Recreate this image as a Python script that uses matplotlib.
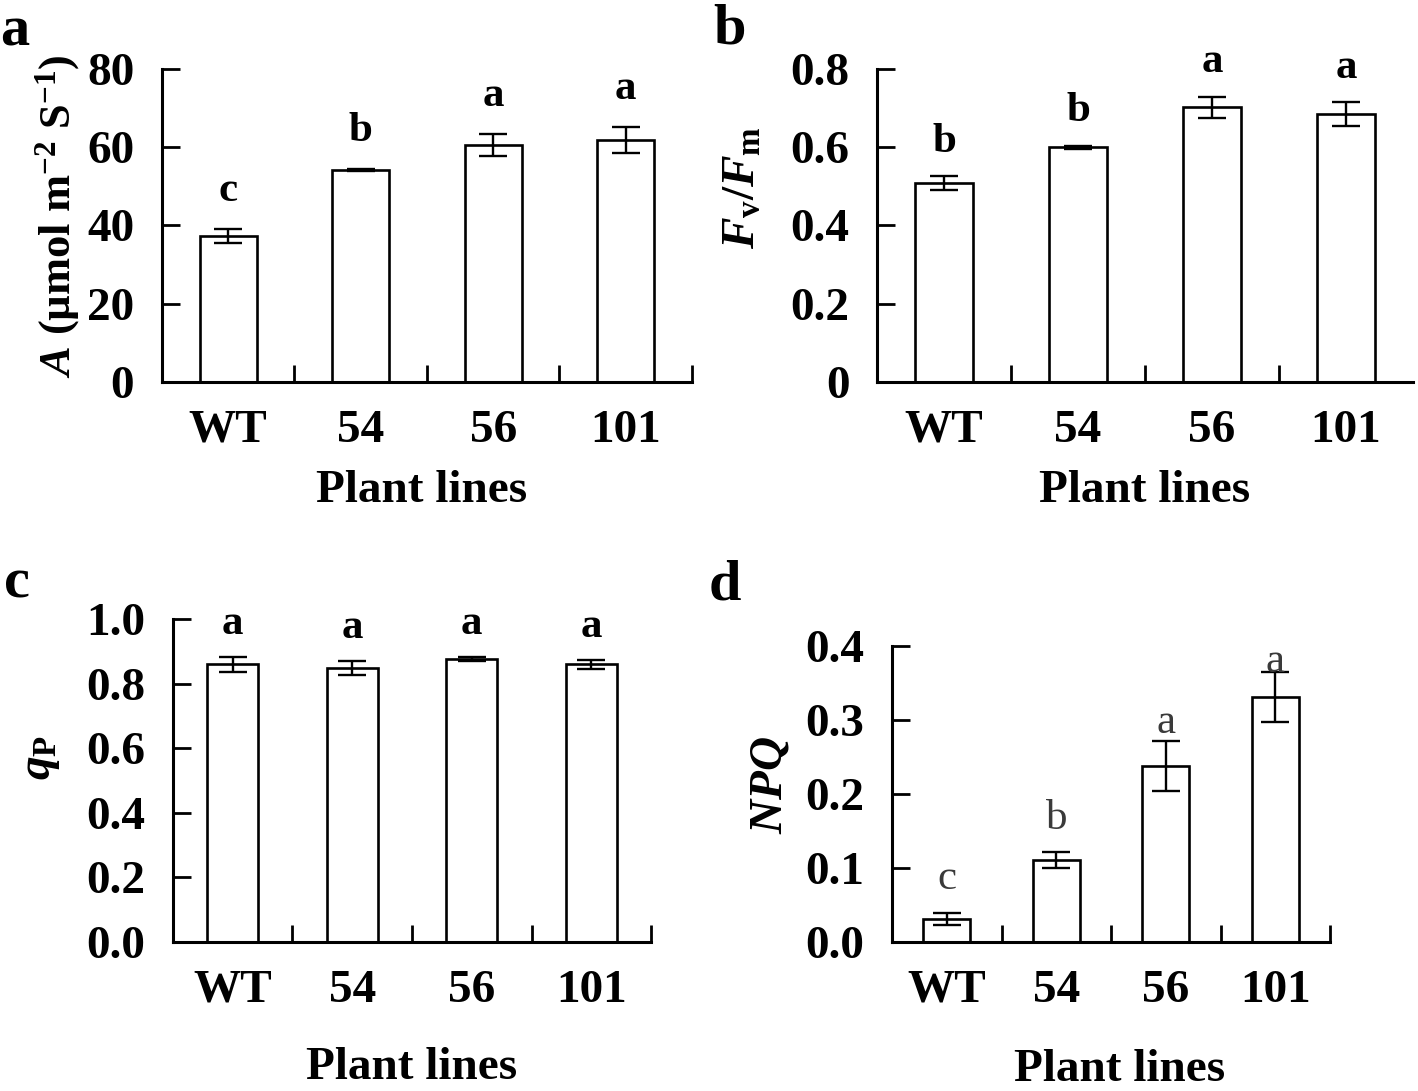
import numpy as np
import matplotlib
matplotlib.use('Agg')
import matplotlib.pyplot as plt

plt.rcParams['font.family'] = 'Liberation Serif'
plt.rcParams['font.weight'] = 'bold'
plt.rcParams['axes.labelweight'] = 'bold'
plt.rcParams['mathtext.fontset'] = 'custom'
plt.rcParams['mathtext.rm'] = 'Liberation Serif:bold'
plt.rcParams['mathtext.it'] = 'Liberation Serif:italic:bold'
plt.rcParams['mathtext.bf'] = 'Liberation Serif:bold'

lines = ['WT', '54', '56', '101']

# a: net photosynthetic rate
photo = [37.3, 54.1, 60.5, 61.8]
photo_err = [1.7, 0.3, 2.8, 3.4]
photo_sig = ['c', 'b', 'a', 'a']
photo_ticks = [0, 20, 40, 60, 80]
photo_ticklabels = ['0', '20', '40', '60', '80']

# b: Fv/Fm
fvfm = [0.508, 0.600, 0.702, 0.685]
fvfm_err = [0.018, 0.004, 0.027, 0.030]
fvfm_sig = ['b', 'b', 'a', 'a']
fvfm_ticks = [0, 0.2, 0.4, 0.6, 0.8]
fvfm_ticklabels = ['0', '0.2', '0.4', '0.6', '0.8']

# c: qP
qp = [0.859, 0.848, 0.877, 0.859]
qp_err = [0.023, 0.023, 0.006, 0.015]
qp_sig = ['a', 'a', 'a', 'a']
qp_ticks = [0, 0.2, 0.4, 0.6, 0.8, 1.0]
qp_ticklabels = ['0.0', '0.2', '0.4', '0.6', '0.8', '1.0']

# d: NPQ
npq = [0.031, 0.111, 0.238, 0.331]
npq_err = [0.008, 0.011, 0.034, 0.034]
npq_sig = ['c', 'b', 'a', 'a']
npq_ticks = [0, 0.1, 0.2, 0.3, 0.4]
npq_ticklabels = ['0.0', '0.1', '0.2', '0.3', '0.4']

FS = 34


def panel(ax, vals, errs, sig, ticks, ticklabels, ylabel, pads,
          end_tick=True, sig_kw=None, ylabel_fs=FS):
    x = np.arange(len(lines))
    ax.bar(x, vals, width=0.43, color='white', edgecolor='black',
           linewidth=1.9, zorder=2)
    ax.errorbar(x, vals, yerr=errs, fmt='none', ecolor='black',
                elinewidth=1.7, capsize=10, capthick=1.7, zorder=3)
    kw = dict(fontsize=31, fontweight='bold', color='black')
    if sig_kw:
        kw.update(sig_kw)
    for xi, v, e, s, p in zip(x, vals, errs, sig, pads):
        ax.text(xi, v + e + p, s, ha='center', va='baseline', **kw)

    ax.set_xlim(-0.5, 3.5)
    ax.set_ylim(ticks[0], ticks[-1])
    ax.set_yticks(ticks)
    ax.set_yticklabels(ticklabels)
    bounds = [0.5, 1.5, 2.5, 3.5] if end_tick else [0.5, 1.5, 2.5]
    ax.set_xticks(bounds)
    ax.set_xticklabels([])
    ax.set_xticks(x, minor=True)
    ax.set_xticklabels(lines, minor=True)
    ax.tick_params(axis='x', which='major', direction='in', length=12, width=2)
    ax.tick_params(axis='x', which='minor', length=0, pad=20, labelsize=FS)
    ax.tick_params(axis='y', direction='in', length=13, width=2, pad=20,
                   labelsize=FS)
    for sp in ['top', 'right']:
        ax.spines[sp].set_visible(False)
    for sp in ['left', 'bottom']:
        ax.spines[sp].set_linewidth(2.2)
    ax.set_ylabel(ylabel, fontsize=ylabel_fs, fontweight='bold')
    ax.set_xlabel('Plant lines', fontsize=FS, fontweight='bold')


fig = plt.figure(figsize=(14.18, 10.91), dpi=100)
ax_a = fig.add_axes([0.1142, 0.6499, 0.3738, 0.2869])
ax_b = fig.add_axes([0.6185, 0.6499, 0.3780, 0.2869])
ax_c = fig.add_axes([0.1220, 0.1366, 0.3371, 0.2961])
ax_d = fig.add_axes([0.6291, 0.1366, 0.3089, 0.2713])

panel(ax_a, photo, photo_err, photo_sig, photo_ticks, photo_ticklabels,
      r'$A$ (µmol m$^{-2}$ S$^{-1}$)', [7.2] * 4, ylabel_fs=32)
panel(ax_b, fvfm, fvfm_err, fvfm_sig, fvfm_ticks, fvfm_ticklabels,
      r'$F_{\mathrm{v}}/F_{\mathrm{m}}$', [0.062] * 4, end_tick=False)
panel(ax_c, qp, qp_err, qp_sig, qp_ticks, qp_ticklabels,
      r'$q_{\mathrm{P}}$', [0.07] * 4)
panel(ax_d, npq, npq_err, npq_sig, npq_ticks, npq_ticklabels,
      r'$NPQ$', [0.032, 0.03, 0.01, 0.0],
      sig_kw=dict(fontweight='normal', color='#3a3a3a'))

ax_a.xaxis.set_label_coords(0.49, -0.28)
ax_b.xaxis.set_label_coords(0.5, -0.28)
ax_c.xaxis.set_label_coords(0.5, -0.325)
ax_d.xaxis.set_label_coords(0.52, -0.36)

ax_a.yaxis.set_label_coords(-0.15, 0.53)
ax_b.yaxis.set_label_coords(-0.21, 0.62)
ax_c.yaxis.set_label_coords(-0.232, 0.57)
ax_d.yaxis.set_label_coords(-0.23, 0.53)

for lab, xf, yf in [('a', 0.0, 1 - 45 / 1091), ('b', 0.503, 1 - 43 / 1091),
                    ('c', 0.003, 1 - 598 / 1091), ('d', 0.5, 1 - 600 / 1091)]:
    fig.text(xf, yf, lab, fontsize=42, fontweight='bold', va='baseline', ha='left')

fig.savefig('out.png', dpi=100)
